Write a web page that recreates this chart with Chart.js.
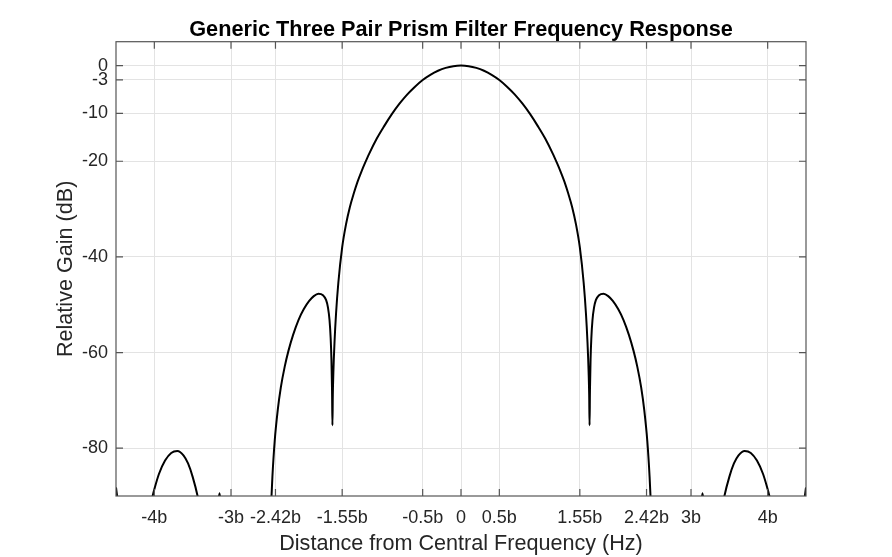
<html>
  <head>
    <title>Prism Filter Frequency Response</title>
    <script src="https://cdn.jsdelivr.net/npm/chart.js@4.4.0/dist/chart.umd.min.js"></script>
    <style>
      body { margin: 0; background: #fff; }
    </style>
  </head>

  <body>
    <canvas id="response" width="892" height="557"></canvas>
  </body>

  <script>
    // curve: offset from centre (in units of b) and gain in dB
    // values below -90 only carry the line off the bottom of the plot
    var offsets = [
      -4.50, -4.47, -4.42, -4.26, -4.08, -4.03, -4.00, -3.94, -3.86, -3.78, -3.70, -3.62, -3.56, -3.50, -3.436, -3.38,
      -3.28, -3.19, -3.15, -3.11, -2.80, -2.50, -2.48, -2.46, -2.43, -2.39, -2.35, -2.30, -2.25, -2.19, -2.12, -2.05, -1.98,
      -1.92, -1.86, -1.80, -1.76, -1.735, -1.715, -1.700, -1.690, -1.682, -1.677,
      -1.672, -1.665, -1.65, -1.63, -1.60, -1.55, -1.50, -1.45, -1.40, -1.35, -1.30, -1.25, -1.20, -1.10, -1.00,
      -0.90, -0.80, -0.70, -0.60, -0.50, -0.40, -0.30, -0.20, -0.10, 0,
      0.10, 0.20, 0.30, 0.40, 0.50, 0.60, 0.70, 0.80, 0.90,
      1.00, 1.10, 1.20, 1.25, 1.30, 1.35, 1.40, 1.45, 1.50, 1.55, 1.60, 1.63, 1.65, 1.665, 1.672,
      1.677, 1.682, 1.690, 1.700, 1.715, 1.735, 1.76, 1.80, 1.86, 1.92,
      1.98, 2.05, 2.12, 2.19, 2.25, 2.30, 2.35, 2.39, 2.43, 2.46, 2.48, 2.50, 2.80, 3.11, 3.15, 3.19, 3.28,
      3.38, 3.436, 3.50, 3.56, 3.62, 3.70, 3.78, 3.86, 3.94, 4.00, 4.03, 4.08, 4.26, 4.42, 4.47, 4.50
    ];
    var gains = [
      -88.2, -92, -100, -110, -94, -90.5, -88.6, -85.4, -82.6, -81.0, -80.6, -81.5, -83.2, -86.0, -90, -95,
      -110, -95, -89.4, -95, -115, -100, -93, -86, -78.5, -72.0, -67.3, -63.0, -59.6, -56.3, -53.2, -50.9, -49.2,
      -48.2, -47.7, -48.0, -49.0, -50.6, -53.2, -57.0, -61.5, -68, -75.2,
      -68.9, -64.3, -57.9, -51.9, -45.4, -38.0, -33.2, -29.6, -26.8, -24.3, -22.2, -20.3, -18.5, -15.3, -12.6,
      -10.1, -7.9, -6.0, -4.4, -3.0, -1.92, -1.08, -0.48, -0.12, 0,
      -0.12, -0.48, -1.08, -1.92, -3.0, -4.4, -6.0, -7.9, -10.1,
      -12.6, -15.3, -18.5, -20.3, -22.2, -24.3, -26.8, -29.6, -33.2, -38.0, -45.4, -51.9, -57.9, -64.3, -68.9,
      -75.2, -68, -61.5, -57.0, -53.2, -50.6, -49.0, -48.0, -47.7, -48.2,
      -49.2, -50.9, -53.2, -56.3, -59.6, -63.0, -67.3, -72.0, -78.5, -86, -93, -100, -115, -95, -89.4, -95, -110,
      -95, -90, -86.0, -83.2, -81.5, -80.6, -81.0, -82.6, -85.4, -88.6, -90.5, -94, -110, -100, -92, -88.2
    ];

    var xTickValues = [-4, -3, -2.42, -1.55, -0.5, 0, 0.5, 1.55, 2.42, 3, 4];
    var xTickLabels = ["-4b", "-3b", "-2.42b", "-1.55b", "-0.5b", "0", "0.5b", "1.55b", "2.42b", "3b", "4b"];
    var yTickValues = [-80, -60, -40, -20, -10, -3, 0];
    var yTickLabels = ["-80", "-60", "-40", "-20", "-10", "-3", "0"];

    var points = [];
    for (var i = 0; i < offsets.length; i++)
      points.push({x: offsets[i], y: gains[i]});

    var textColor = "#262626";
    var boxColor = "#555555";
    var gridColor = "#e3e3e3";
    var font = "'Liberation Sans', Arial, sans-serif";

    // matlab style box with the tick marks pointing inwards
    var boxPlugin = {
      id: "box",
      afterDatasetsDraw: function(chart) {
        var ctx = chart.ctx;
        var a = chart.chartArea;
        var xs = chart.scales.x, ys = chart.scales.y;
        var len = 7;
        ctx.save();
        ctx.strokeStyle = boxColor;
        ctx.lineWidth = 1.2;
        ctx.beginPath();
        for (var i = 0; i < xTickValues.length; i++) {
          var px = xs.getPixelForValue(xTickValues[i]);
          ctx.moveTo(px, a.bottom); ctx.lineTo(px, a.bottom - len);
          ctx.moveTo(px, a.top); ctx.lineTo(px, a.top + len);
        }
        for (i = 0; i < yTickValues.length; i++) {
          var py = ys.getPixelForValue(yTickValues[i]);
          ctx.moveTo(a.left, py); ctx.lineTo(a.left + len, py);
          ctx.moveTo(a.right, py); ctx.lineTo(a.right - len, py);
        }
        ctx.stroke();
        ctx.strokeRect(a.left, a.top, a.right - a.left, a.bottom - a.top);
        ctx.restore();
      }
    };

    new Chart(document.getElementById("response"), {
      type: "line",
      data: {
        datasets: [{
          data: points,
          borderColor: "#000000",
          borderWidth: 2,
          pointRadius: 0,
          cubicInterpolationMode: "monotone",
          fill: false,
          clip: 0
        }]
      },
      options: {
        responsive: false,
        animation: false,
        devicePixelRatio: 1,
        layout: { padding: { right: 86, top: 0, left: 0, bottom: 0 } },
        plugins: {
          legend: { display: false },
          tooltip: { enabled: false },
          title: {
            display: true,
            fullSize: false,
            text: "Generic Three Pair Prism Filter Frequency Response",
            color: "#000000",
            font: { family: font, size: 21.7, weight: "bold", lineHeight: 1.0 },
            padding: { top: 19, bottom: 1 }
          }
        },
        scales: {
          x: {
            type: "linear",
            min: -4.5,
            max: 4.5,
            afterBuildTicks: function(scale) {
              scale.ticks = xTickValues.map(function(v) { return {value: v}; });
            },
            afterFit: function(scale) { scale.height = 61; },
            ticks: {
              color: textColor,
              font: { family: font, size: 18 },
              padding: 11,
              maxRotation: 0,
              autoSkip: false,
              callback: function(value, index) { return xTickLabels[index]; }
            },
            grid: { color: gridColor, drawTicks: false },
            border: { display: false },
            title: {
              display: true,
              text: "Distance from Central Frequency (Hz)",
              color: textColor,
              font: { family: font, size: 21.6 },
              padding: { top: 0, bottom: 0 }
            }
          },
          y: {
            type: "linear",
            min: -90,
            max: 5,
            afterBuildTicks: function(scale) {
              scale.ticks = yTickValues.map(function(v) { return {value: v}; });
            },
            afterFit: function(scale) { scale.width = 116; },
            ticks: {
              color: textColor,
              font: { family: font, size: 18 },
              padding: 8,
              autoSkip: false,
              callback: function(value, index) { return yTickLabels[index]; }
            },
            grid: { color: gridColor, drawTicks: false },
            border: { display: false },
            title: {
              display: true,
              text: "Relative Gain (dB)",
              color: textColor,
              font: { family: font, size: 21.6 },
              padding: { top: 53, bottom: 0 }
            }
          }
        }
      },
      plugins: [boxPlugin]
    });
  </script>
</html>
